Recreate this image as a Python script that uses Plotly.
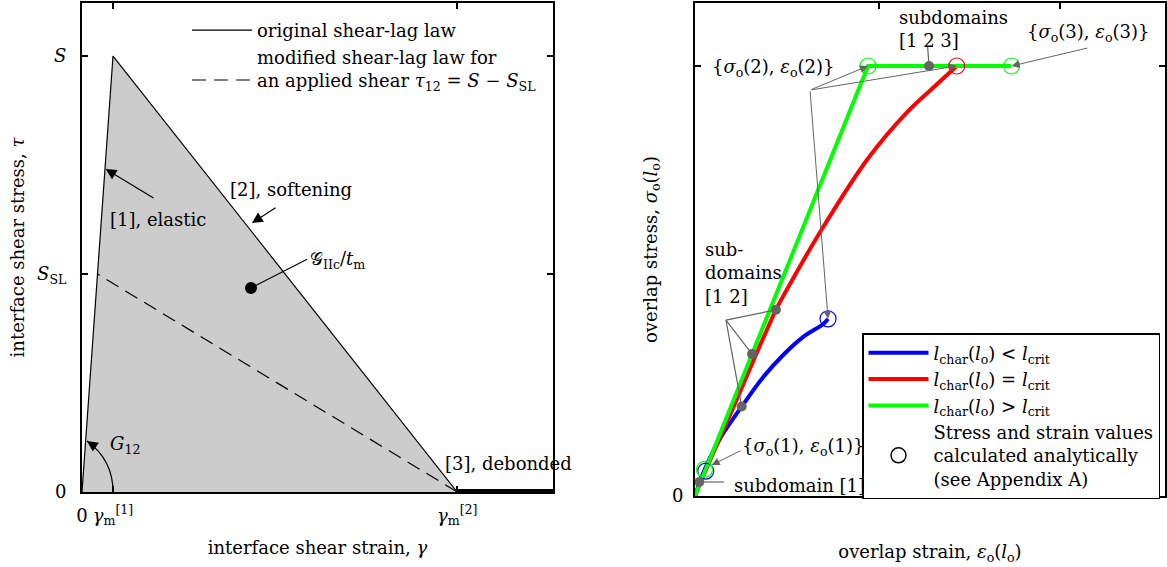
import plotly.graph_objects as go

W, H = 1167, 567
FONT = "DejaVu Serif"
GRAY = "#646464"

# ---------------- left panel data (interface shear law) ----------------
gamma_m1 = 1.0
gamma_m2 = 12.1
S = 1.0
S_SL = 0.5
gamma_end = 15.19
law_x = [0, gamma_m1, gamma_m2]
law_y = [0, S, 0]
mod_x = [gamma_m2, 0.5]
mod_y = [0, S_SL]
deb_x = [gamma_m2, gamma_end]
deb_y = [0, 0]
G_dot_x = [5.45]
G_dot_y = [0.468]
left_xticks = [0, gamma_m1, gamma_m2]
left_xticktext = ["0", "<i>γ</i><sub>m</sub><sup>[1]</sup>", "<i>γ</i><sub>m</sub><sup>[2]</sup>"]
left_yticks = [0, S_SL, S]
left_yticktext = ["0", "<i>S</i><sub>SL</sub>", "<i>S</i>"]

# ---------------- right panel data (overlap stress-strain) ----------------
blue_x = [0, 0.058, 0.15, 0.27, 0.395, 0.51, 0.626, 0.742, 0.769]
blue_y = [0, 0.063, 0.137, 0.208, 0.277, 0.328, 0.370, 0.400, 0.412]
red_x = [0, 0.06, 0.215, 0.468, 0.52, 0.734, 1.0, 1.22, 1.4, 1.513]
red_y = [0, 0.058, 0.2, 0.433, 0.472, 0.621, 0.785, 0.89, 0.958, 1.0]
green_x = [0, 1.0, 1.83]
green_y = [0, 1.0, 1.0]
blue_circ_x = [0.062, 0.769]
blue_circ_y = [0.058, 0.412]
red_circ_x = [1.513]
red_circ_y = [1.0]
green_circ_x = [0.055, 1.0, 1.83]
green_circ_y = [0.062, 1.0, 1.0]
sub_dot_x = [0.025, 0.27, 0.33, 0.468, 1.353]
sub_dot_y = [0.0326, 0.208, 0.33, 0.433, 1.0]
right_xticks = [1.064, 2.11]
right_yticks = [0, 1.0]

fig = go.Figure()

# left panel traces
fig.add_trace(go.Scatter(x=law_x, y=law_y, fill="toself", fillcolor="#cccccc",
                         mode="lines", line=dict(width=0), showlegend=False,
                         hoverinfo="skip", xaxis="x", yaxis="y"))
fig.add_trace(go.Scatter(x=law_x, y=law_y, mode="lines", line=dict(color="black", width=1.2),
                         name="original shear-lag law", legend="legend", xaxis="x", yaxis="y"))
fig.add_trace(go.Scatter(x=mod_x, y=mod_y, mode="lines",
                         line=dict(color="black", width=1.2, dash="14px,8px"),
                         name="modified shear-lag law for<br>an applied shear <i>τ</i><sub>12</sub> = <i>S</i> − <i>S</i><sub>SL</sub>",
                         legend="legend", xaxis="x", yaxis="y"))
fig.add_trace(go.Scatter(x=deb_x, y=deb_y, mode="lines", line=dict(color="black", width=6),
                         showlegend=False, cliponaxis=False, xaxis="x", yaxis="y"))
fig.add_trace(go.Scatter(x=G_dot_x, y=G_dot_y, mode="markers",
                         marker=dict(color="black", size=12), showlegend=False,
                         xaxis="x", yaxis="y"))

# right panel traces
fig.add_trace(go.Scatter(x=blue_x, y=blue_y, mode="lines", line=dict(color="#0000ff", width=4, shape="spline"),
                         name="<i>l</i><sub>char</sub>(<i>l</i><sub>o</sub>) &lt; <i>l</i><sub>crit</sub>",
                         legend="legend2", xaxis="x2", yaxis="y2"))
fig.add_trace(go.Scatter(x=red_x, y=red_y, mode="lines", line=dict(color="#ff0000", width=4, shape="spline"),
                         name="<i>l</i><sub>char</sub>(<i>l</i><sub>o</sub>) = <i>l</i><sub>crit</sub>",
                         legend="legend2", xaxis="x2", yaxis="y2"))
fig.add_trace(go.Scatter(x=green_x, y=green_y, mode="lines", line=dict(color="#00ff00", width=4),
                         name="<i>l</i><sub>char</sub>(<i>l</i><sub>o</sub>) &gt; <i>l</i><sub>crit</sub>",
                         legend="legend2", xaxis="x2", yaxis="y2"))
for cx, cy, col in [(blue_circ_x, blue_circ_y, "#0000ff"), (red_circ_x, red_circ_y, "#ff0000"),
                    (green_circ_x, green_circ_y, "#00ff00")]:
    fig.add_trace(go.Scatter(x=cx, y=cy, mode="markers",
                             marker=dict(symbol="circle-open", size=16, color=col, line=dict(width=1.2)),
                             showlegend=False, cliponaxis=False, xaxis="x2", yaxis="y2"))
fig.add_trace(go.Scatter(x=sub_dot_x, y=sub_dot_y, mode="markers",
                         marker=dict(color=GRAY, size=10), showlegend=False,
                         cliponaxis=False, xaxis="x2", yaxis="y2"))
fig.add_trace(go.Scatter(x=[None], y=[None], mode="markers",
                         marker=dict(symbol="circle-open", size=15, color="black", line=dict(width=1.5)),
                         name="Stress and strain values<br>calculated analytically<br>(see Appendix A)",
                         legend="legend2", xaxis="x2", yaxis="y2"))

tf = dict(family=FONT, size=18, color="black")
ann = []
shapes = []

def text(x, y, t, ref="", xanchor="left", align="left"):
    ann.append(dict(x=x, y=y, xref="x" + ref, yref="y" + ref, text=t, showarrow=False,
                    xanchor=xanchor, yanchor="middle", align=align, font=tf))

def arrow(hx, hy, tx, ty, ref="", color="black", size=1.8, width=1.2):
    ann.append(dict(x=hx, y=hy, ax=tx, ay=ty, xref="x" + ref, yref="y" + ref,
                    axref="x" + ref, ayref="y" + ref, text="", showarrow=True,
                    arrowhead=2, arrowsize=size, arrowwidth=width, arrowcolor=color,
                    standoff=0, startstandoff=0))

def seg(x0, y0, x1, y1, ref="", color=GRAY, width=1.2):
    shapes.append(dict(type="line", x0=x0, y0=y0, x1=x1, y1=y1, xref="x" + ref, yref="y" + ref,
                       line=dict(color=color, width=width)))

# left annotations
text(0.84, 0.624, "[1], elastic")
arrow(0.763, 0.741, 2.355, 0.672)
text(4.7, 0.693, "[2], softening")
arrow(5.48, 0.617, 6.29, 0.654)
text(7.29, 0.532, "𝒢<sub>IIc</sub>/<i>t</i><sub>m</sub>")
seg(G_dot_x[0], G_dot_y[0], 7.26, 0.534, color="black")
text(0.84, 0.108, "<i>G</i><sub>12</sub>")
shapes.append(dict(type="path", path="M 1,0 Q 1,0.0736 0.161,0.117", xref="x", yref="y",
                   line=dict(color="black", width=1.2)))
ann.append(dict(x=0.161, y=0.117, ax=10, ay=7, xref="x", yref="y", text="", showarrow=True,
                arrowhead=2, arrowsize=1.8, arrowwidth=1.2, arrowcolor="black", standoff=0))
text(11.65, 0.0665, "[3], debonded")

# right annotations
text(0.821, 0.995, "{<i>σ</i><sub>o</sub>(2), <i>ε</i><sub>o</sub>(2)}", ref="2", xanchor="right")
for hx, hy in [(1.0, 1.0), (1.513, 1.0), (0.769, 0.412)]:
    arrow(hx, hy, 0.665, 0.944, ref="2", color=GRAY, size=1.6, width=1)
text(0.046, 0.519, "sub-<br>domains<br>[1 2]", ref="2")
for dx, dy in [(0.468, 0.433), (0.33, 0.33), (0.27, 0.208)]:
    seg(0.179, 0.409, dx, dy, ref="2")
text(1.168, 1.085, "subdomains<br>[1 2 3]", ref="2")
seg(1.353, 1.0, 1.345, 1.044, ref="2")
text(1.908, 1.077, "{<i>σ</i><sub>o</sub>(3), <i>ε</i><sub>o</sub>(3)}", ref="2")
arrow(1.83, 1.0, 2.277, 1.0426, ref="2", color=GRAY, size=1.6, width=1)
text(0.26, 0.114, "{<i>σ</i><sub>o</sub>(1), <i>ε</i><sub>o</sub>(1)}", ref="2")
arrow(0.0965, 0.072, 0.272, 0.107, ref="2", color=GRAY, size=1.6, width=1)
text(0.214, 0.0233, "subdomain [1]", ref="2")
seg(0.025, 0.0326, 0.168, 0.0326, ref="2")

axcommon = dict(showgrid=False, zeroline=False, showline=True, linecolor="black", linewidth=2,
                mirror="ticks", ticks="inside", ticklen=6, tickwidth=1.5, tickcolor="black",
                tickfont=tf, title_font=tf, automargin=False)

fig.update_layout(
    width=W, height=H, margin=dict(l=0, r=0, t=0, b=0),
    paper_bgcolor="white", plot_bgcolor="white", font=tf,
    xaxis=dict(domain=[82 / W, 553 / W], range=[0, gamma_end], anchor="y",
               tickvals=left_xticks, ticktext=left_xticktext, ticklabelstandoff=6,
               title=dict(text="interface shear strain, <i>γ</i>", standoff=14), **axcommon),
    yaxis=dict(domain=[(H - 492) / H, (H - 3) / H], range=[0, 1.1216], anchor="x",
               tickvals=left_yticks, ticktext=left_yticktext, ticklabelstandoff=10,
               title=dict(text="interface shear stress, <i>τ</i>", standoff=8), **axcommon),
    xaxis2=dict(domain=[695 / W, 1165 / W], range=[0, 2.717], anchor="y2",
                tickvals=right_xticks, ticktext=["", ""],
                title=dict(text="overlap strain, <i>ε</i><sub>o</sub>(<i>l</i><sub>o</sub>)", standoff=45),
                **axcommon),
    yaxis2=dict(domain=[(H - 496) / H, (H - 3) / H], range=[0, 1.1465], anchor="x2",
                tickvals=right_yticks, ticktext=["0", ""], ticklabelstandoff=6,
                title=dict(text="overlap stress, <i>σ</i><sub>o</sub>(<i>l</i><sub>o</sub>)", standoff=10),
                **axcommon),
    legend=dict(x=187 / W, y=1 - 12 / H, xanchor="left", yanchor="top", bgcolor="rgba(0,0,0,0)",
                borderwidth=0, itemwidth=60, font=tf, valign="bottom"),
    legend2=dict(x=862 / W, y=1 - 333 / H, xanchor="left", yanchor="top", bgcolor="white",
                 bordercolor="black", borderwidth=1.5, itemwidth=60, font=tf, valign="middle"),
    annotations=ann, shapes=shapes,
)

fig.write_html("out.html")
